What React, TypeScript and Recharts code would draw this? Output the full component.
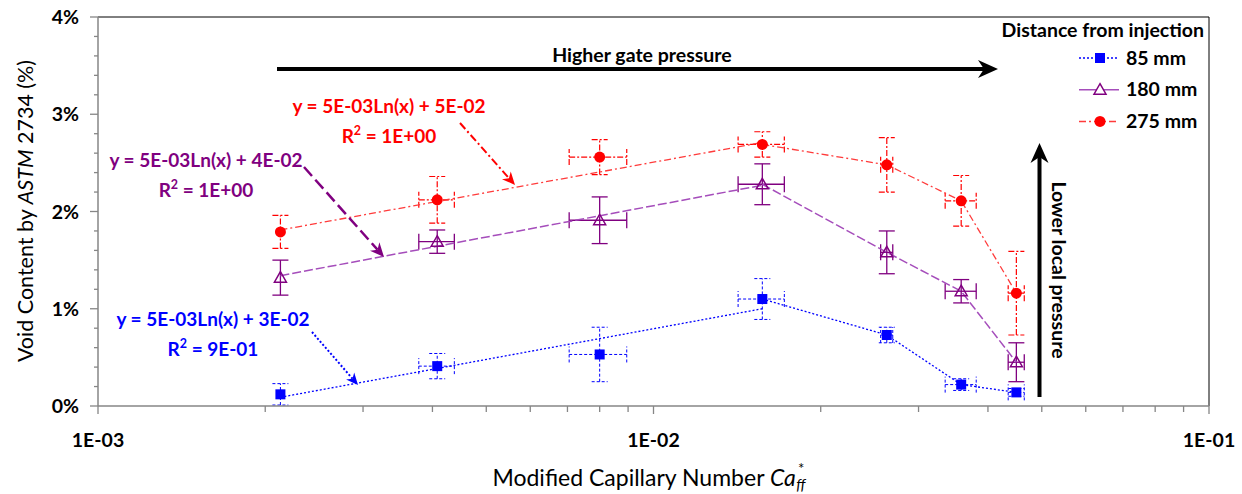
import React from "react";
import {
  ComposedChart,
  Scatter,
  XAxis,
  YAxis,
  ErrorBar,
  ReferenceLine,
  Legend,
} from "recharts";

// Modified capillary number (same positions for all three distances)
const capillary = [2.13e-3, 4.08e-3, 8.0e-3, 1.57e-2, 2.63e-2, 3.58e-2, 4.5e-2];
const capillaryErr = [null, 0.3e-3, 0.95e-3, 1.5e-3, 0.66e-3, 2.3e-3, 1.5e-3];

// Void content (%) by distance from injection
const void85 = [0.12, 0.41, 0.53, 1.1, 0.73, 0.22, 0.14];
const void85Err = [0.11, 0.13, 0.28, 0.21, 0.08, 0.06, 0.04];
const void180 = [1.32, 1.69, 1.91, 2.28, 1.58, 1.18, 0.45];
const void180Err = [0.18, 0.12, 0.24, 0.21, 0.22, 0.12, 0.2];
const void275 = [1.79, 2.12, 2.56, 2.69, 2.48, 2.11, 1.16];
const void275Err = [0.17, 0.24, 0.18, 0.13, 0.28, 0.26, 0.43];

// log trend lines (value at first and fourth point)
const trend85 = [0.09, 1.0];
const trend180 = [1.34, 2.27];
const trend275 = [1.81, 2.71];

const xTicks = [
  0.001, 0.002, 0.003, 0.004, 0.005, 0.006, 0.007, 0.008, 0.009,
  0.01, 0.02, 0.03, 0.04, 0.05, 0.06, 0.07, 0.08, 0.09, 0.1,
];
const yTicks = [0, 0.2, 0.4, 0.6, 0.8, 1, 1.2, 1.4, 1.6, 1.8, 2, 2.2, 2.4, 2.6, 2.8, 3, 3.2, 3.4, 3.6, 3.8, 4];

const FONT = "Lato, 'Open Sans', sans-serif";
const BLUE = "#0000FF";
const PURPLE = "#800080";
const PURPLE_LINE = "#A54DBB";
const RED = "#FF0000";
const RED_LINE = "#FF3B3B";
const AXIS = "#868686";
const LABEL_SIZE = 19.5;

const buildRows = (vals: number[], errs: number[]) =>
  capillary.map((x, i) => ({ x, y: vals[i], ex: capillaryErr[i], ey: errs[i] }));

const rows85 = buildRows(void85, void85Err);
const rows180 = buildRows(void180, void180Err);
const rows275 = buildRows(void275, void275Err);

const trendRows = (t: number[]) => [
  { x: capillary[0], y: t[0] },
  { x: capillary[3], y: t[1] },
];

const Square = (p: any) => (
  <rect x={p.cx - 5} y={p.cy - 5} width={10} height={10} fill={BLUE} />
);
const Triangle = (p: any) => (
  <path
    d={`M${p.cx},${p.cy - 6} L${p.cx + 6},${p.cy + 4.5} L${p.cx - 6},${p.cy + 4.5} Z`}
    fill="none"
    stroke={PURPLE}
    strokeWidth={1.5}
  />
);
const Dot = (p: any) => <circle cx={p.cx} cy={p.cy} r={5.5} fill={RED} />;
const NoShape = () => <g />;

const isDecade = (v: number) => Math.abs(Math.log10(v) - Math.round(Math.log10(v))) < 1e-6;

const XTick = (props: any) => {
  const { x, y, payload } = props;
  const v = payload.value;
  const major = isDecade(v);
  const exp = Math.round(Math.log10(v));
  return (
    <g>
      <line x1={x} x2={x} y1={y} y2={y + (major ? 8 : 6)} stroke={AXIS} strokeWidth={1.3} />
      {major && (
        <text x={x} y={y + 41} textAnchor="middle" fontFamily={FONT} fontWeight={700} fontSize={LABEL_SIZE} fill="#000">
          {`1E-0${-exp}`}
        </text>
      )}
    </g>
  );
};

const YTick = (props: any) => {
  const { x, y, payload } = props;
  const v = payload.value;
  const major = Math.abs(v - Math.round(v)) < 1e-6;
  return (
    <g>
      <line x1={x - (major ? 8 : 4)} x2={x} y1={y} y2={y} stroke={AXIS} strokeWidth={1.3} />
      {major && (
        <text x={x - 19} y={y + 7} textAnchor="end" fontFamily={FONT} fontWeight={700} fontSize={LABEL_SIZE} fill="#000">
          {`${Math.round(v)}%`}
        </text>
      )}
    </g>
  );
};

const legendItems = [
  { label: "85 mm", color: BLUE, dash: "2 2", marker: "square" },
  { label: "180 mm", color: PURPLE_LINE, dash: undefined, marker: "triangle" },
  { label: "275 mm", color: RED_LINE, dash: "7 3 2 3", marker: "circle" },
];

const LegendBox = () => (
  <svg width={240} height={130} style={{ display: "block" }}>
    <text x={209} y={23} textAnchor="end" fontFamily={FONT} fontWeight={700} fontSize={LABEL_SIZE}>
      Distance from injection
    </text>
    {legendItems.map((it, i) => {
      const cy = 44 + i * 31.7;
      return (
        <g key={it.label}>
          <line x1={84} x2={124} y1={cy} y2={cy} stroke={it.color} strokeWidth={1.5} strokeDasharray={it.dash} />
          {it.marker === "square" && <rect x={100} y={cy - 5} width={10} height={10} fill={BLUE} />}
          {it.marker === "triangle" && (
            <path d={`M105,${cy - 6} L111,${cy + 4.5} L99,${cy + 4.5} Z`} fill="#fff" stroke={PURPLE} strokeWidth={1.5} />
          )}
          {it.marker === "circle" && <circle cx={105} cy={cy} r={5.5} fill={RED} />}
          <text x={131} y={cy + 6.5} fontFamily={FONT} fontWeight={700} fontSize={LABEL_SIZE}>
            {it.label}
          </text>
        </g>
      );
    })}
  </svg>
);

function Arrow({ x1, y1, x2, y2, color, width, dash, head }: any) {
  const ang = Math.atan2(y2 - y1, x2 - x1);
  const c = Math.cos(ang);
  const s = Math.sin(ang);
  const hw = head * 0.45;
  const bx = x2 - head * c;
  const by = y2 - head * s;
  const nx = x2 - head * 0.7 * c;
  const ny = y2 - head * 0.7 * s;
  return (
    <g>
      <line x1={x1} y1={y1} x2={nx} y2={ny} stroke={color} strokeWidth={width} strokeDasharray={dash} />
      <polygon
        points={`${x2},${y2} ${bx + hw * s},${by - hw * c} ${nx},${ny} ${bx - hw * s},${by + hw * c}`}
        fill={color}
      />
    </g>
  );
}

const Equation = ({ x, y, color, eq, r2 }: any) => (
  <g fontFamily={FONT} fontWeight={700} fontSize={19} fill={color}>
    <text x={x} y={y} textAnchor="middle">
      {eq}
    </text>
    <text x={x} y={y + 30} textAnchor="middle">
      <tspan>R</tspan>
      <tspan dy={-8} fontSize={12.5}>2</tspan>
      <tspan dy={8}>{` = ${r2}`}</tspan>
    </text>
  </g>
);

export default function App() {
  return (
    <div style={{ position: "absolute", left: 0, top: 0, width: 1242, height: 494, background: "#fff" }}>
      <ComposedChart width={1242} height={494} margin={{ top: 17, right: 33, left: 0, bottom: 0 }}>
        <XAxis
          type="number"
          dataKey="x"
          scale="log"
          domain={[0.001, 0.1]}
          ticks={xTicks}
          interval={0}
          allowDataOverflow
          height={88}
          tickSize={0}
          tickMargin={0}
          tickLine={false}
          stroke={AXIS}
          strokeWidth={1.5}
          tick={<XTick />}
        />
        <YAxis
          type="number"
          dataKey="y"
          domain={[0, 4]}
          ticks={yTicks}
          interval={0}
          allowDataOverflow
          width={98}
          tickSize={0}
          tickMargin={0}
          tickLine={false}
          stroke={AXIS}
          strokeWidth={1.5}
          tick={<YTick />}
        />
        <ReferenceLine y={4} stroke="#000" strokeWidth={1} />
        <ReferenceLine x={0.1} stroke="#000" strokeWidth={1} />

        {/* trend lines over the first four points */}
        <Scatter data={trendRows(trend85)} shape={NoShape} line={{ stroke: BLUE, strokeWidth: 1.3, strokeDasharray: "2 2" }} isAnimationActive={false} legendType="none" />
        <Scatter data={trendRows(trend180)} shape={NoShape} line={{ stroke: PURPLE_LINE, strokeWidth: 1.5, strokeDasharray: "9 3" }} isAnimationActive={false} legendType="none" />
        <Scatter data={trendRows(trend275)} shape={NoShape} line={{ stroke: RED_LINE, strokeWidth: 1.3, strokeDasharray: "7 3 2 3" }} isAnimationActive={false} legendType="none" />

        {/* connections past the peak */}
        <Scatter data={rows85.slice(3)} shape={NoShape} line={{ stroke: BLUE, strokeWidth: 1.3, strokeDasharray: "2 2" }} isAnimationActive={false} legendType="none" />
        <Scatter data={rows180.slice(3)} shape={NoShape} line={{ stroke: PURPLE_LINE, strokeWidth: 1.5, strokeDasharray: "9 3" }} isAnimationActive={false} legendType="none" />
        <Scatter data={rows275.slice(3)} shape={NoShape} line={{ stroke: RED_LINE, strokeWidth: 1.3, strokeDasharray: "7 3 2 3" }} isAnimationActive={false} legendType="none" />

        <Scatter name="85 mm" data={rows85} shape={Square} isAnimationActive={false}>
          <ErrorBar dataKey="ey" direction="y" width={8} stroke={BLUE} strokeWidth={1} strokeDasharray="3 2" />
          <ErrorBar dataKey="ex" direction="x" width={8} stroke={BLUE} strokeWidth={1} strokeDasharray="3 2" />
        </Scatter>
        <Scatter name="180 mm" data={rows180} shape={Triangle} isAnimationActive={false}>
          <ErrorBar dataKey="ey" direction="y" width={8} stroke={PURPLE} strokeWidth={1.3} />
          <ErrorBar dataKey="ex" direction="x" width={8} stroke={PURPLE} strokeWidth={1.3} />
        </Scatter>
        <Scatter name="275 mm" data={rows275} shape={Dot} isAnimationActive={false}>
          <ErrorBar dataKey="ey" direction="y" width={8} stroke={RED} strokeWidth={1.2} strokeDasharray="6 2 2 2" />
          <ErrorBar dataKey="ex" direction="x" width={8} stroke={RED} strokeWidth={1.2} strokeDasharray="6 2 2 2" />
        </Scatter>

        <Legend
          layout="horizontal"
          verticalAlign="middle"
          align="center"
          content={LegendBox}
          wrapperStyle={{ position: "absolute", left: 995, top: 14, width: 240, height: 130 }}
        />
      </ComposedChart>

      {/* annotations */}
      <svg width={1242} height={494} style={{ position: "absolute", left: 0, top: 0, pointerEvents: "none" }}>
        <text
          transform="translate(33,211) rotate(-90)"
          textAnchor="middle"
          fontFamily={FONT}
          fontSize={21.5}
          fill="#000"
        >
          <tspan>Void Content by </tspan>
          <tspan fontStyle="italic">ASTM</tspan>
          <tspan> 2734 (%)</tspan>
        </text>
        <text x={649} y={486} textAnchor="middle" fontFamily={FONT} fontSize={23} fill="#000">
          <tspan>Modified Capillary Number </tspan>
          <tspan fontStyle="italic">Ca</tspan>
          <tspan dx={2} dy={-12} fontSize={15}>*</tspan>
          <tspan dx={-8} dy={16} fontSize={15} fontStyle="italic">ff</tspan>
        </text>

        <text x={642} y={62} textAnchor="middle" fontFamily={FONT} fontWeight={700} fontSize={LABEL_SIZE}>
          Higher gate pressure
        </text>
        <Arrow x1={277} y1={69} x2={998} y2={69} color="#000" width={4} head={20} />

        <text transform="translate(1052,270) rotate(90)" textAnchor="middle" fontFamily={FONT} fontWeight={700} fontSize={LABEL_SIZE}>
          Lower local pressure
        </text>
        <Arrow x1={1039.5} y1={397} x2={1039.5} y2={143} color="#000" width={4} head={20} />

        <Equation x={389} y={113} color={RED} eq="y = 5E-03Ln(x) + 5E-02" r2="1E+00" />
        <Arrow x1={460} y1={123} x2={515} y2={185} color={RED} width={2} dash="8 3 2 3" head={13} />

        <Equation x={206} y={167} color={PURPLE} eq="y = 5E-03Ln(x) + 4E-02" r2="1E+00" />
        <Arrow x1={304} y1={167} x2={384} y2={257} color={PURPLE} width={2.5} dash="12 5" head={14} />

        <Equation x={213} y={326} color={BLUE} eq="y = 5E-03Ln(x) + 3E-02" r2="9E-01" />
        <Arrow x1={312} y1={332} x2={358} y2={385} color={BLUE} width={2} dash="2 2" head={12} />
      </svg>
    </div>
  );
}
